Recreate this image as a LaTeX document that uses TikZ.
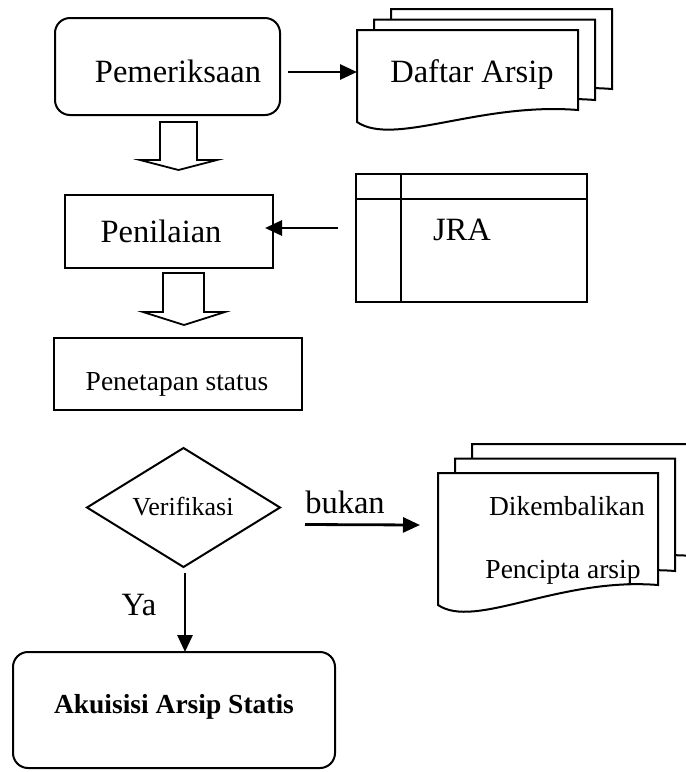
\documentclass[tikz,border=0pt]{standalone}
\usepackage{fontspec}
\setmainfont{Liberation Serif}
\usetikzlibrary{shapes.geometric,arrows.meta,calc}
\tikzset{
  box/.style={draw=black, line width=2pt, inner sep=0pt, outer sep=0pt},
  docline/.style={draw=black, line width=2pt, fill=white, line join=miter},
  hollow/.style={draw=black, line width=1.8pt, fill=white, line join=miter},
  arr/.style={draw=black, line width=2.8pt, -{Triangle[length=17pt,width=15pt]}},
  lbl/.style={inner sep=0pt, outer sep=0pt, anchor=base},
  big/.style={font=\fontsize{32.5}{32.5}\selectfont},
  mid/.style={font=\fontsize{27.5}{27.5}\selectfont},
  small/.style={font=\fontsize{26}{26}\selectfont},
}
% #1 left x, #2 top y, #3 right x, #4 left-bottom y, #5 right-bottom y
\newcommand{\docsheet}[5]{%
  \draw[docline] (#1,#2) -- (#3,#2) -- (#3,#5)
    .. controls ($(#3,#5)+(-99,-8)$) and ($(#1,#4)+(37,25)$) .. (#1,#4) -- cycle;}
\begin{document}
\begin{tikzpicture}[x=1pt,y=-1pt]
\useasboundingbox (0,0) rectangle (686,772);

% ---------- Pemeriksaan ----------
\node[box, rounded corners=15pt, minimum width=225pt, minimum height=97pt] (pem) at (167.5,66.5) {};
\node[lbl, big] (pemT) at (178,82) {Pemeriksaan};

% ---------- Daftar Arsip (stack) ----------
\docsheet{391}{9}{612}{101}{89}
\docsheet{374}{19.5}{595}{111.5}{100}
\docsheet{357}{30}{578}{122}{110}
\coordinate (daftarW) at (357,72);
\node[lbl, big] (daftarT) at (472,82) {Daftar Arsip};

% ---------- Penilaian ----------
\node[box, minimum width=208pt, minimum height=73pt] (nil) at (169,231.5) {};
\node[lbl, big] (nilT) at (161,242) {Penilaian};

% ---------- JRA ----------
\node[box, minimum width=231pt, minimum height=128pt] (jra) at (471.5,238) {};
\draw[line width=2pt] (401,174) -- (401,302);
\draw[line width=2pt] (356,199) -- (587,199);
\node[lbl, big] (jraT) at (462,240) {JRA};

% ---------- Penetapan status ----------
\node[box, minimum width=248pt, minimum height=72pt] (tap) at (178,374) {};
\node[lbl, mid] (tapT) at (177,390) {Penetapan status};

% ---------- Verifikasi ----------
\node[draw=black, line width=2pt, shape=diamond, inner sep=0pt, outer sep=0pt,
      minimum width=193pt, minimum height=119pt] (ver) at (183.5,507.5) {};
\node[lbl, small] (verT) at (183,515) {Verifikasi};

% ---------- Dikembalikan (stack) ----------
\docsheet{472}{444}{692}{576}{556}
\docsheet{455}{458.5}{675}{591}{571}
\docsheet{438}{473}{658}{605}{585}
\coordinate (kembaliW) at (438,525);
\node[lbl, mid] (kembT) at (567,515) {Dikembalikan};
\node[lbl, mid] (pencT) at (563,578) {Pencipta arsip};

% ---------- Akuisisi ----------
\node[box, rounded corners=15pt, minimum width=322pt, minimum height=116pt] (aku) at (174,710) {};
\node[lbl, font=\fontsize{27.5}{27.5}\selectfont\bfseries] (akuT) at (174,713) {Akuisisi Arsip Statis};

% ---------- hollow arrows ----------
\draw[hollow] (160,122) -- (197,122) -- (197,160) -- (217,160) -- (178.5,170)
  -- (140,160) -- (160,160) -- cycle;
\draw[hollow] (163,273) -- (204,273) -- (204,312) -- (225,312) -- (184,325)
  -- (143,312) -- (163,312) -- cycle;

% ---------- connectors ----------
\coordinate (a1s) at ($(pem.east)+(8,5.5)$);
\draw[arr] (a1s) -- (daftarW);
\coordinate (a2s) at ($(jra.west)+(-18,-10)$);
\coordinate (a2e) at ($(nil.east)+(-8,-3.5)$);
\draw[arr] (a2s) -- (a2e);
\coordinate (a3s) at ($(ver.east)+(25,17)$);
\draw[arr] (a3s) -- ($(kembaliW)+(-18,0)$);
\node[lbl, big] (bukanT) at (345,513) {bukan};
\coordinate (a4s) at ($(ver.south)+(1.5,6)$);
\draw[arr] (a4s) -- (aku.north -| a4s);
\node[lbl, big] (yaT) at (139,615) {Ya};
\end{tikzpicture}
\end{document}
